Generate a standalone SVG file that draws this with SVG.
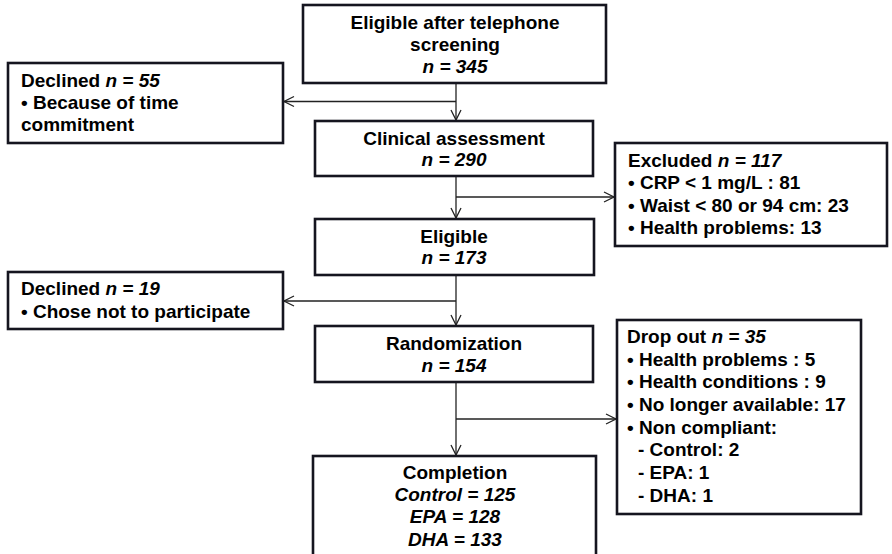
<svg xmlns="http://www.w3.org/2000/svg" width="892" height="554" viewBox="0 0 892 554">
<style>
.box{fill:#fff;stroke:#15151f;stroke-width:2.6}
.t{font-family:"Liberation Sans",Arial,sans-serif;font-size:19px;font-weight:bold;fill:#000}
.c{text-anchor:middle}
.i{font-style:italic}
.ln{fill:none;stroke:#222;stroke-width:1.3}
</style>
<defs>
<marker id="arr" markerUnits="userSpaceOnUse" markerWidth="14" markerHeight="14" viewBox="-12 -7 14 14" refX="0" refY="0" orient="auto">
<path d="M-10,-5 L0,0 L-10,5" fill="none" stroke="#222" stroke-width="1.3"/>
</marker>
</defs>
<rect width="892" height="554" fill="#fff"/>
<g id="connectors">
<line class="ln" x1="456" y1="83" x2="456" y2="120" marker-end="url(#arr)"/>
<line class="ln" x1="456" y1="101.5" x2="284" y2="101.5" marker-end="url(#arr)"/>
<line class="ln" x1="456" y1="176" x2="456" y2="218" marker-end="url(#arr)"/>
<line class="ln" x1="456" y1="197" x2="614" y2="197" marker-end="url(#arr)"/>
<line class="ln" x1="456" y1="275" x2="456" y2="325" marker-end="url(#arr)"/>
<line class="ln" x1="456" y1="301" x2="284" y2="301" marker-end="url(#arr)"/>
<line class="ln" x1="456" y1="382" x2="456" y2="455" marker-end="url(#arr)"/>
<line class="ln" x1="456" y1="419" x2="616" y2="419" marker-end="url(#arr)"/>
</g>
<g id="n1">
<rect class="box" x="303" y="5" width="303" height="78"/>
<text class="t c" x="455" y="29">Eligible after telephone</text>
<text class="t c" x="455" y="51">screening</text>
<text class="t c i" x="455" y="73">n = 345</text>
</g>
<g id="declined1">
<rect class="box" x="8" y="63" width="275" height="80"/>
<text class="t" x="21" y="87">Declined <tspan class="i">n = 55</tspan></text>
<text class="t" x="21" y="109">• Because of time</text>
<text class="t" x="21" y="131">commitment</text>
</g>
<g id="clinical">
<rect class="box" x="315" y="121" width="278" height="55"/>
<text class="t c" x="454" y="145">Clinical assessment</text>
<text class="t c i" x="454" y="166">n = 290</text>
</g>
<g id="excluded">
<rect class="box" x="615" y="143" width="272" height="103"/>
<text class="t" x="628" y="167">Excluded <tspan class="i">n = 117</tspan></text>
<text class="t" x="628" y="189">• CRP &lt; 1 mg/L : 81</text>
<text class="t" x="628" y="212">• Waist &lt; 80 or 94 cm: 23</text>
<text class="t" x="628" y="234">• Health problems: 13</text>
</g>
<g id="eligible">
<rect class="box" x="315" y="219" width="279" height="56"/>
<text class="t c" x="454" y="243">Eligible</text>
<text class="t c i" x="454" y="264">n = 173</text>
</g>
<g id="declined2">
<rect class="box" x="8" y="272" width="275" height="57"/>
<text class="t" x="21" y="295">Declined <tspan class="i">n = 19</tspan></text>
<text class="t" x="21" y="318">• Chose not to participate</text>
</g>
<g id="randomization">
<rect class="box" x="315" y="326" width="278" height="56"/>
<text class="t c" x="454" y="350">Randomization</text>
<text class="t c i" x="454" y="372">n = 154</text>
</g>
<g id="dropout">
<rect class="box" x="617" y="320" width="244" height="194"/>
<text class="t" x="627" y="343">Drop out <tspan class="i">n = 35</tspan></text>
<text class="t" x="627" y="366">• Health problems : 5</text>
<text class="t" x="627" y="388">• Health conditions : 9</text>
<text class="t" x="627" y="411">• No longer available: 17</text>
<text class="t" x="627" y="434">• Non compliant:</text>
<text class="t" x="638" y="456">- Control: 2</text>
<text class="t" x="638" y="479">- EPA: 1</text>
<text class="t" x="638" y="502">- DHA: 1</text>
</g>
<g id="completion">
<rect class="box" x="313" y="456" width="283" height="110"/>
<text class="t c" x="455" y="479">Completion</text>
<text class="t c i" x="455" y="501">Control = 125</text>
<text class="t c i" x="455" y="523">EPA = 128</text>
<text class="t c i" x="455" y="546">DHA = 133</text>
</g>
</svg>
